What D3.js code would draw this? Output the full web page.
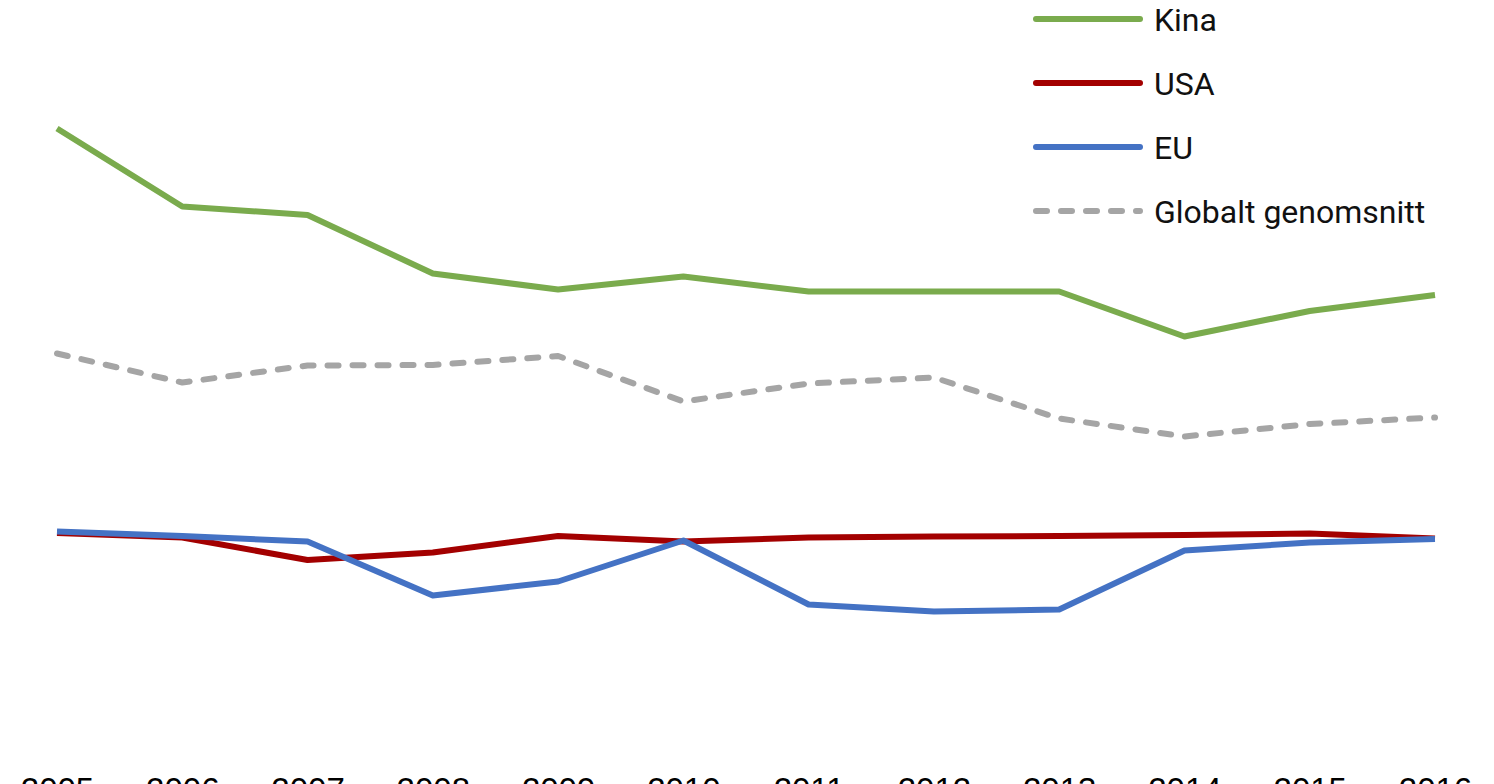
<!DOCTYPE html>
<html>
<head>
<meta charset="utf-8">
<title>Kina, USA, EU och globalt genomsnitt 2005-2016</title>
<script src="https://cdnjs.cloudflare.com/ajax/libs/d3/7.8.5/d3.min.js"></script>
<style>
  html, body { margin: 0; padding: 0; background: #fff; overflow: hidden; }
  svg { display: block; }
</style>
</head>
<body>
<div id="chart"></div>
<script>
// years on the x axis
var years = ["2005", "2006", "2007", "2008", "2009", "2010", "2011", "2012", "2013", "2014", "2015", "2016"];

// series values (no axis shown so units are relative)
var kina   = [1.203, 1.047, 1.030, 0.913, 0.881, 0.907, 0.877, 0.877, 0.877, 0.787, 0.838, 0.870];
var usa    = [0.394, 0.385, 0.340, 0.355, 0.388, 0.377, 0.385, 0.387, 0.388, 0.390, 0.393, 0.383];
var eu     = [0.397, 0.388, 0.377, 0.269, 0.297, 0.379, 0.251, 0.237, 0.241, 0.359, 0.375, 0.382];
var global = [0.753, 0.695, 0.729, 0.730, 0.748, 0.657, 0.693, 0.705, 0.623, 0.587, 0.612, 0.625];

var seriesNames = ["Kina", "USA", "EU", "Globalt genomsnitt"];

var width = 1494, height = 784;

var series = [
  { name: seriesNames[0], values: kina,   color: "#7aab4d", dash: null },
  { name: seriesNames[1], values: usa,    color: "#a30000", dash: null },
  { name: seriesNames[2], values: eu,     color: "#4472c4", dash: null },
  { name: seriesNames[3], values: global, color: "#a5a5a5", dash: "11,14" }
];

var svg = d3.select("#chart").append("svg")
    .attr("width", width)
    .attr("height", height);

var x = d3.scalePoint()
    .domain(years)
    .range([57, 1435]);

var y = d3.scaleLinear()
    .domain([0, 1.4])
    .range([730, 30]);

// x axis: only the labels, no line or ticks (the picture crops them at the bottom)
var xAxis = svg.append("g")
    .attr("transform", "translate(0,778)")
    .call(d3.axisBottom(x).tickSize(0).tickPadding(0));
xAxis.select(".domain").remove();
xAxis.selectAll("text")
    .attr("dy", "0.71em")
    .attr("fill", "#000")
    .style("font-family", "'Liberation Sans', Arial, sans-serif")
    .style("font-size", "33px");

var line = d3.line()
    .x(function(d, i) { return x(years[i]); })
    .y(function(d) { return y(d); });

// draw grey first, then the others on top (blue over red like the picture)
var drawOrder = [series[3], series[0], series[1], series[2]];

svg.append("g").selectAll("path")
  .data(drawOrder)
  .join("path")
    .attr("d", function(d) { return line(d.values); })
    .attr("fill", "none")
    .attr("stroke", function(d) { return d.color; })
    .attr("stroke-width", 6)
    .attr("stroke-linejoin", "round")
    .attr("stroke-linecap", function(d) { return d.dash ? "round" : "butt"; })
    .attr("stroke-dasharray", function(d) { return d.dash; });

// legend
var legend = svg.append("g").attr("class", "legend");
var item = legend.selectAll("g")
  .data(series)
  .join("g")
    .attr("transform", function(d, i) { return "translate(1033," + (19 + i * 64) + ")"; });

item.append("line")
    .attr("x1", 3).attr("x2", 107)
    .attr("stroke", function(d) { return d.color; })
    .attr("stroke-width", 6)
    .attr("stroke-linecap", "round")
    .attr("stroke-dasharray", function(d) { return d.dash; });

item.append("text")
    .attr("x", 121)
    .attr("y", 12)
    .attr("fill", "#111")
    .style("font-family", "Roboto, 'Noto Sans', sans-serif")
    .style("font-size", "32px")
    .text(function(d) { return d.name; });
</script>
</body>
</html>
